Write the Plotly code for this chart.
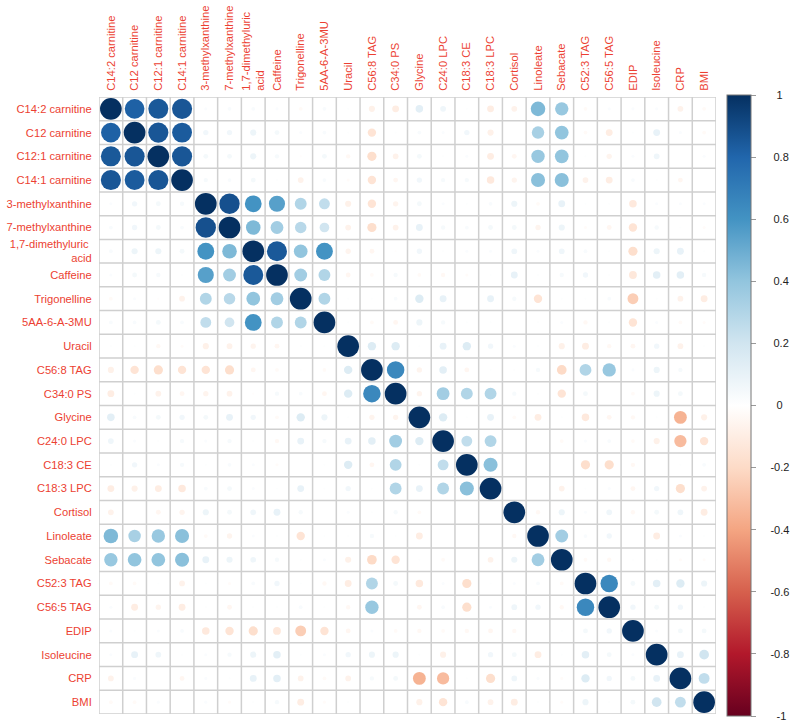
import plotly.graph_objects as go

labels = ["C14:2 carnitine", "C12 carnitine", "C12:1 carnitine", "C14:1 carnitine",
          "3-methylxanthine", "7-methylxanthine", "1,7-dimethyluric acid", "Caffeine",
          "Trigonelline", "5AA-6-A-3MU", "Uracil", "C56:8 TAG", "C34:0 PS", "Glycine",
          "C24:0 LPC", "C18:3 CE", "C18:3 LPC", "Cortisol", "Linoleate", "Sebacate",
          "C52:3 TAG", "C56:5 TAG", "EDIP", "Isoleucine", "CRP", "BMI"]

x_ticktext = [l if l != "1,7-dimethyluric acid" else "1,7-dimethyluric<br>acid" for l in labels]
y_ticktext = [l if l != "1,7-dimethyluric acid" else "1,7-dimethyluric <br>acid" for l in labels]

# upper-triangle correlations: row_i holds corr(i, j) for j = i+1 .. 25
row_00 = [0.82, 0.85, 0.86, 0.02, 0.03, 0.03, 0.02, -0.03, 0.03, 0.01, -0.08, -0.10, 0.12, 0.07, 0.01, -0.10, -0.07, 0.45, 0.38, -0.03, 0.02, 0.02, 0.02, -0.07, -0.03]
row_01 = [0.86, 0.84, 0.06, 0.06, 0.08, 0.05, 0.02, 0.03, 0.01, -0.15, 0.01, 0.03, 0.02, 0.06, -0.08, 0.00, 0.33, 0.40, -0.03, -0.10, 0.01, 0.10, 0.02, -0.03]
row_02 = [0.86, 0.05, 0.05, 0.08, 0.04, -0.01, 0.05, -0.04, -0.18, -0.07, 0.05, 0.01, 0.02, -0.10, -0.05, 0.38, 0.40, 0.01, -0.06, 0.02, 0.07, 0.00, 0.02]
row_03 = [0.04, 0.03, 0.05, 0.01, -0.07, 0.03, -0.02, -0.15, -0.05, 0.06, 0.04, 0.04, -0.12, -0.06, 0.42, 0.42, -0.07, -0.10, 0.03, 0.01, -0.05, 0.00]
row_04 = [0.88, 0.60, 0.55, 0.30, 0.25, -0.08, -0.15, -0.06, 0.05, 0.02, 0.01, 0.03, 0.08, -0.03, 0.10, 0.01, 0.01, -0.12, 0.02, 0.02, 0.02]
row_05 = [0.45, 0.35, 0.28, 0.20, -0.07, -0.18, -0.07, 0.10, 0.04, 0.03, 0.05, 0.05, -0.06, 0.08, -0.02, -0.05, -0.15, 0.04, 0.01, -0.02]
row_06 = [0.85, 0.40, 0.60, -0.06, -0.05, -0.01, 0.06, 0.01, 0.02, 0.02, 0.07, 0.02, 0.07, 0.03, 0.01, -0.18, 0.08, 0.10, 0.01]
row_07 = [0.35, 0.30, -0.05, -0.03, 0.04, -0.03, -0.04, -0.02, 0.01, 0.10, 0.01, 0.04, 0.06, 0.01, -0.13, 0.12, 0.12, 0.04]
row_08 = [0.30, 0.01, 0.01, 0.03, 0.15, 0.10, 0.00, 0.10, 0.04, -0.15, 0.01, 0.01, 0.03, -0.25, 0.01, -0.07, -0.10]
row_09 = [0.01, -0.03, -0.05, 0.08, 0.04, 0.01, 0.01, 0.00, 0.01, 0.02, -0.04, 0.01, -0.15, 0.02, -0.03, -0.02]
row_10 = [0.15, 0.15, 0.01, 0.10, 0.15, 0.06, 0.02, 0.01, -0.08, -0.10, -0.04, -0.05, 0.06, -0.07, 0.01]
row_11 = [0.65, -0.06, 0.12, -0.05, 0.01, 0.01, 0.04, -0.20, 0.30, 0.38, 0.02, 0.08, 0.04, 0.00]
row_12 = [-0.06, 0.35, 0.30, 0.30, 0.04, 0.01, -0.15, 0.05, 0.00, -0.03, 0.08, 0.05, 0.00]
row_13 = [0.15, 0.01, 0.10, -0.03, -0.10, 0.01, -0.12, -0.05, -0.04, 0.01, -0.35, -0.08]
row_14 = [0.25, 0.30, 0.00, 0.00, -0.03, 0.02, 0.03, -0.03, -0.08, -0.32, -0.15]
row_15 = [0.42, 0.00, 0.00, 0.00, -0.18, -0.18, -0.04, 0.00, 0.01, 0.03]
row_16 = [0.00, 0.00, -0.07, 0.01, 0.02, -0.05, 0.06, -0.18, -0.07]
row_17 = [-0.04, 0.08, 0.02, 0.07, -0.04, 0.05, 0.07, -0.10]
row_18 = [0.35, 0.03, 0.06, 0.00, -0.10, 0.02, 0.01]
row_19 = [-0.03, -0.04, 0.01, 0.01, -0.02, -0.02]
row_20 = [0.65, 0.05, 0.12, 0.15, 0.08]
row_21 = [0.06, 0.05, 0.06, 0.01]
row_22 = [0.02, 0.05, 0.05]
row_23 = [0.10, 0.20]
row_24 = [0.25]

upper_rows = [row_00, row_01, row_02, row_03, row_04, row_05, row_06, row_07, row_08,
              row_09, row_10, row_11, row_12, row_13, row_14, row_15, row_16, row_17,
              row_18, row_19, row_20, row_21, row_22, row_23, row_24, []]

n = len(labels)
corr = [[1.0] * n for _ in range(n)]
for i, row in enumerate(upper_rows):
    for k, v in enumerate(row):
        j = i + 1 + k
        corr[i][j] = v
        corr[j][i] = v

xs, ys, vals, sizes = [], [], [], []
for i in range(n):
    for j in range(n):
        v = corr[i][j]
        xs.append(j)
        ys.append(i)
        vals.append(v)
        sizes.append(21.7 * abs(v) ** 0.5)

colorscale = [[0.0, "#67001F"], [0.1, "#B2182B"], [0.2, "#D6604D"], [0.3, "#F4A582"],
              [0.4, "#FDDBC7"], [0.5, "#FFFFFF"], [0.6, "#D1E5F0"], [0.7, "#92C5DE"],
              [0.8, "#4393C3"], [0.9, "#2166AC"], [1.0, "#053061"]]

cb_vals = [-1, -0.8, -0.6, -0.4, -0.2, 0, 0.2, 0.4, 0.6, 0.8, 1]
cb_text = ["-1", "-0.8", "-0.6", "-0.4", "-0.2", "0", "0.2", "0.4", "0.6", "0.8", "1"]
NB = "\u00a0"
pad_count = {1: 6, 2: 6, 3: 5, 4: 4}
cb_text_centered = [NB * pad_count[len(t)] + t for t in cb_text]

fig = go.Figure(go.Scatter(
    x=xs, y=ys, mode="markers", hoverinfo="skip",
    marker=dict(size=sizes, color=vals, colorscale=colorscale, cmin=-1, cmax=1,
                opacity=1, line=dict(width=0), showscale=True,
                colorbar=dict(x=1.018, xanchor="left", xpad=0, y=0.5, yanchor="middle",
                              lenmode="pixels", len=621, thickness=24, ypad=0,
                              outlinecolor="#777777", outlinewidth=1,
                              tickmode="array", tickvals=cb_vals, ticktext=cb_text_centered,
                              ticks="outside", ticklen=5, tickcolor="#999999",
                              tickfont=dict(size=11, color="#222222"))),
))

shapes = []
for k in range(n + 1):
    shapes.append(dict(type="line", xref="x", yref="y", x0=k - 0.5, x1=k - 0.5, y0=-0.5, y1=n - 0.5,
                       line=dict(color="#cfcfcf", width=1.5), layer="below"))
    shapes.append(dict(type="line", xref="x", yref="y", y0=k - 0.5, y1=k - 0.5, x0=-0.5, x1=n - 0.5,
                       line=dict(color="#cfcfcf", width=1.5), layer="below"))

label_color = "#ec3f32"
fig.update_layout(
    template="none",
    width=800, height=727,
    margin=dict(l=99, r=84, t=97, b=13, autoexpand=False),
    paper_bgcolor="white", plot_bgcolor="white",
    font=dict(family="Liberation Sans, Arial, sans-serif", size=11),
    showlegend=False,
    shapes=shapes,
    xaxis=dict(range=[-0.5, n - 0.5], side="top", tickmode="array", automargin=False,
               tickvals=list(range(n)), ticktext=x_ticktext, tickangle=-90,
               showgrid=False, zeroline=False, showline=False,
               ticks="outside", ticklen=3, tickcolor="rgba(0,0,0,0)",
               tickfont=dict(color=label_color, size=11.2), fixedrange=True),
    yaxis=dict(range=[n - 0.5, -0.5], tickmode="array", automargin=False,
               tickvals=list(range(n)), ticktext=y_ticktext,
               showgrid=False, zeroline=False, showline=False,
               ticks="outside", ticklen=4, tickcolor="rgba(0,0,0,0)",
               tickfont=dict(color=label_color, size=11.2), fixedrange=True),
)

fig.write_html("out.html", config={"displayModeBar": False},
               post_script="document.body.style.margin='0px';")
